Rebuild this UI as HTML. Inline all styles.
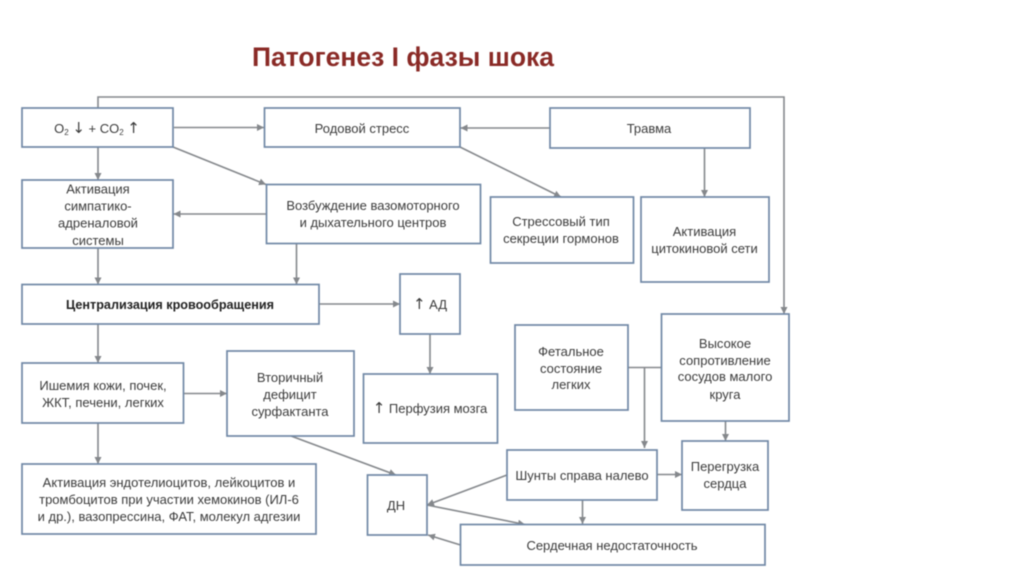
<!DOCTYPE html>
<html lang="ru">
<head>
<meta charset="utf-8">
<style>
html,body{margin:0;padding:0;background:#fff;}
svg{display:block;filter:blur(0.45px);}
text{font-family:"Liberation Sans","DejaVu Sans",sans-serif;font-size:13px;fill:#3c3c3c;text-anchor:middle;}
.b{fill:#fff;stroke:#7088a6;stroke-width:1.7;}
.l{fill:none;stroke:#85888c;stroke-width:1.6;}
.h{fill:#85888c;stroke:none;}
.ar{font-family:"DejaVu Sans",sans-serif;font-size:15px;}
</style>
</head>
<body>
<svg width="1024" height="574" viewBox="0 0 1024 574" xmlns="http://www.w3.org/2000/svg">
<defs>
<marker id="a" markerUnits="userSpaceOnUse" markerWidth="8" markerHeight="8" refX="7" refY="4" orient="auto">
<path class="h" d="M0 .5L7 4L0 7.500z"/>
</marker>
</defs>
<rect width="1024" height="574" fill="#fff"/>
<text x="403" y="66" style="font-size:26.500px;font-weight:bold;fill:#8a2a26" textLength="302" lengthAdjust="spacingAndGlyphs">Патогенез I фазы шока</text>

<!-- connectors -->
<path class="l" d="M98 108V97H784V314" marker-end="url(#a)"/>
<path class="l" d="M174 127.500H264" marker-end="url(#a)"/>
<path class="l" d="M550 128H460.500" marker-end="url(#a)"/>
<path class="l" d="M98 147V180" marker-end="url(#a)"/>
<path class="l" d="M173 147L266 184.500" marker-end="url(#a)"/>
<path class="l" d="M460 147L561 197" marker-end="url(#a)"/>
<path class="l" d="M704.500 148V197" marker-end="url(#a)"/>
<path class="l" d="M266.500 214H173.500" marker-end="url(#a)"/>
<path class="l" d="M98 248V284.500" marker-end="url(#a)"/>
<path class="l" d="M296.500 243.500V284.500" marker-end="url(#a)"/>
<path class="l" d="M319 304H400" marker-end="url(#a)"/>
<path class="l" d="M430 334V374" marker-end="url(#a)"/>
<path class="l" d="M98 324V363" marker-end="url(#a)"/>
<path class="l" d="M183.500 393.500H227" marker-end="url(#a)"/>
<path class="l" d="M98 423V464" marker-end="url(#a)"/>
<path class="l" d="M291 436L396 475" marker-end="url(#a)"/>
<path class="l" d="M628 367.500H661.500"/>
<path class="l" d="M644.500 367.500V448" marker-end="url(#a)"/>
<path class="l" d="M725.500 421V441" marker-end="url(#a)"/>
<path class="l" d="M657 474.500H682" marker-end="url(#a)"/>
<path class="l" d="M507 475L427 505" marker-end="url(#a)"/>
<path class="l" d="M427 505L525 524.500" marker-end="url(#a)"/>
<path class="l" d="M582.500 500V524" marker-end="url(#a)"/>
<path class="l" d="M460.500 545L428 535" marker-end="url(#a)"/>

<!-- boxes -->
<rect class="b" x="22" y="108" width="151" height="39"/>
<rect class="b" x="264.500" y="108" width="195.500" height="39"/>
<rect class="b" x="550" y="108" width="200" height="40"/>
<rect class="b" x="22" y="180" width="151" height="68"/>
<rect class="b" x="266.500" y="184.500" width="214" height="59"/>
<rect class="b" x="490.500" y="197" width="143" height="66"/>
<rect class="b" x="641" y="197" width="128" height="85"/>
<rect class="b" x="22" y="284.500" width="297" height="39.500"/>
<rect class="b" x="400" y="274" width="60" height="60"/>
<rect class="b" x="22" y="363" width="161.500" height="60"/>
<rect class="b" x="227" y="351" width="127" height="85"/>
<rect class="b" x="363.500" y="374" width="134" height="69"/>
<rect class="b" x="22" y="464" width="294" height="70"/>
<rect class="b" x="367.500" y="475" width="59.500" height="60"/>
<rect class="b" x="507" y="450" width="150" height="50"/>
<rect class="b" x="460.500" y="524.500" width="304.500" height="40.500"/>
<rect class="b" x="682" y="441" width="86" height="69"/>
<rect class="b" x="515" y="325" width="113" height="85"/>
<rect class="b" x="661.500" y="314" width="127.500" height="107"/>

<!-- labels -->
<text x="97" y="133">O<tspan font-size="8" dy="2">2</tspan><tspan dy="-2"> </tspan><tspan class="ar">↓</tspan><tspan> + CO</tspan><tspan font-size="8" dy="2">2</tspan><tspan dy="-2"> </tspan><tspan class="ar">↑</tspan></text>
<text x="362" y="133">Родовой стресс</text>
<text x="649" y="133">Травма</text>
<text x="98" y="193.500">Активация</text>
<text x="98" y="210.500">симпатико-</text>
<text x="98" y="227.500">адреналовой</text>
<text x="98" y="245">системы</text>
<text x="373" y="210">Возбуждение вазомоторного</text>
<text x="373" y="227">и дыхательного центров</text>
<text x="561" y="226">Стрессовый тип</text>
<text x="561" y="243">секреции гормонов</text>
<text x="704.500" y="236">Активация</text>
<text x="704.500" y="253">цитокиновой сети</text>
<text x="170" y="309" style="font-weight:bold;fill:#222" textLength="208" lengthAdjust="spacingAndGlyphs">Централизация кровообращения</text>
<text x="430" y="309"><tspan class="ar">↑</tspan> АД</text>
<text x="103" y="390">Ишемия кожи, почек,</text>
<text x="103" y="407">ЖКТ, печени, легких</text>
<text x="290" y="382">Вторичный</text>
<text x="290" y="399">дефицит</text>
<text x="290" y="416">сурфактанта</text>
<text x="430" y="413"><tspan class="ar">↑</tspan> Перфузия мозга</text>
<text x="169" y="487">Активация эндотелиоцитов, лейкоцитов и</text>
<text x="169" y="504">тромбоцитов при участии хемокинов (ИЛ-6</text>
<text x="169" y="521">и др.), вазопрессина, ФАТ, молекул адгезии</text>
<text x="396" y="510">ДН</text>
<text x="582" y="480">Шунты справа налево</text>
<text x="612" y="550">Сердечная недостаточность</text>
<text x="725" y="471">Перегрузка</text>
<text x="725" y="488">сердца</text>
<text x="571" y="356">Фетальное</text>
<text x="571" y="373">состояние</text>
<text x="571" y="389">легких</text>
<text x="725" y="348">Высокое</text>
<text x="725" y="365">сопротивление</text>
<text x="725" y="381">сосудов малого</text>
<text x="725" y="399">круга</text>
</svg>
</body>
</html>
